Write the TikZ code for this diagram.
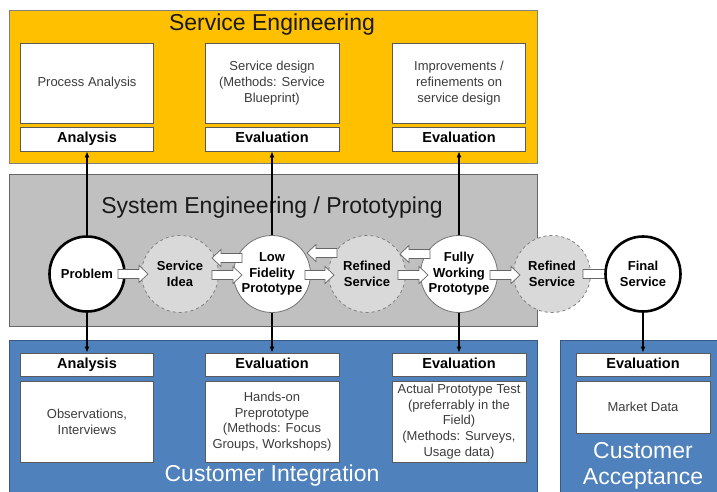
\documentclass[tikz,border=0pt]{standalone}
\usepackage{fontspec}
\setmainfont{Liberation Sans}
\usetikzlibrary{arrows.meta}
\definecolor{seyellow}{RGB}{255,192,0}
\definecolor{segray}{RGB}{192,192,192}
\definecolor{ciblue}{RGB}{79,129,189}
\definecolor{circgray}{RGB}{217,217,217}
\definecolor{bordgray}{RGB}{90,90,90}
\definecolor{txtgray}{RGB}{60,60,60}
\newcommand\rarr[3]{\draw[barrow] (#1,#3-4.5) -- (#2-9,#3-4.5) -- (#2-9,#3-8.5) -- (#2,#3) -- (#2-9,#3+8.5) -- (#2-9,#3+4.5) -- (#1,#3+4.5) -- cycle;}
\newcommand\larr[3]{\draw[barrow] (#1,#3-4.5) -- (#2+9,#3-4.5) -- (#2+9,#3-8.5) -- (#2,#3) -- (#2+9,#3+8.5) -- (#2+9,#3+4.5) -- (#1,#3+4.5) -- cycle;}
\begin{document}
\begin{tikzpicture}[x=1pt,y=-1pt,
  panel/.style={line width=0.8pt},
  cbox/.style={draw=bordgray, fill=white, line width=0.8pt, minimum width=133pt, minimum height=80pt, inner sep=0pt, align=center, font=\fontsize{13}{15.7}\selectfont, text=txtgray},
  lbox/.style={draw=bordgray, fill=white, line width=0.8pt, minimum width=133pt, minimum height=24pt, inner sep=0pt, text height=10.5pt, text depth=3pt, font=\bfseries\fontsize{14.5}{16}\selectfont},
  ttl/.style={anchor=base, font=\fontsize{23}{27}\selectfont},
  circtxt/.style={circle, minimum size=77pt, inner sep=0pt, align=center, font=\bfseries\fontsize{13}{15.4}\selectfont},
  bigcirc/.style={circtxt, draw=black, fill=white, line width=2.6pt, minimum size=75pt},
  dashcirc/.style={circtxt, draw=gray, fill=circgray, dashed, line width=0.8pt},
  opencirc/.style={circtxt, draw=gray!90!black, fill=white, line width=0.8pt},
  conn/.style={-{Latex[length=6pt,width=5pt]}, line width=1.1pt},
  barrow/.style={draw=gray!80!black, fill=white, line width=0.7pt}]
\useasboundingbox (0,0) rectangle (717,492);
% panels
\draw[panel, fill=seyellow, draw=gray] (9,10) rectangle (537,163);
\draw[panel, fill=segray, draw=gray!80!black] (9,174) rectangle (537,326);
\draw[panel, fill=ciblue, draw=ciblue!70!black] (9,340) rectangle (537,496);
\draw[panel, fill=ciblue, draw=ciblue!70!black] (560,340) rectangle (720,496);
% titles
\node[ttl, text=black!90] (tse) at (272,31) {Service Engineering};
\node[ttl, text=black!90] (tsy) at (272,213) {System Engineering / Prototyping};
\node[ttl, text=white] (tci) at (272,481) {Customer Integration};
\node[ttl, text=white] (tca1) at (643,458) {Customer};
\node[ttl, text=white] (tca2) at (643,484) {Acceptance};
% service engineering boxes
\node[cbox] (se1) at (87,83) {Process Analysis};
\node[lbox] (sl1) at (87,139) {Analysis};
\node[cbox, minimum width=134pt] (se2) at (272,83) {Service design\\(Methods: Service\\Blueprint)};
\node[lbox, minimum width=134pt] (sl2) at (272,139) {Evaluation};
\node[cbox] (se3) at (459,83) {Improvements /\\refinements on\\service design};
\node[lbox] (sl3) at (459,139) {Evaluation};
% customer integration boxes
\node[lbox, minimum height=23pt] (cl1) at (87,364.5) {Analysis};
\node[cbox, minimum height=81pt] (ce1) at (87,421.5) {Observations,\\Interviews};
\node[lbox, minimum height=23pt, minimum width=134pt] (cl2) at (272,364.5) {Evaluation};
\node[cbox, minimum height=81pt, minimum width=134pt] (ce2) at (272,421.5) {Hands-on\\Preprototype\\(Methods: Focus\\Groups, Workshops)};
\node[lbox, minimum height=23pt, minimum width=134pt] (cl3) at (459,364.5) {Evaluation};
\node[cbox, minimum height=81pt, minimum width=134pt] (ce3) at (459,421.5) {Actual Prototype Test\\(preferrably in the\\Field)\\(Methods: Surveys,\\Usage data)};
\node[lbox, minimum height=23pt, minimum width=134pt] (al1) at (643,364.5) {Evaluation};
\node[cbox, minimum height=52pt, minimum width=134pt] (ae1) at (643,407) {Market Data};
% circles
\node[bigcirc] (prob) at (87,274) {Problem};
\node[dashcirc] (idea) at (180,274) {Service\\Idea};
\node[opencirc] (lowf) at (272,274) {Low\\Fidelity\\Prototype};
\node[dashcirc] (ref1) at (367,274) {Refined\\Service};
\node[opencirc] (full) at (459,274) {Fully\\Working\\Prototype};
\node[dashcirc] (ref2) at (552,274) {Refined\\Service};
\rarr{583}{622}{274}
\node[bigcirc] (fin) at (643,274) {Final\\Service};
% vertical connectors
\draw[conn] (prob.north) -- (sl1.south);
\draw[conn] (prob.south) -- (cl1.north);
\draw[conn] (lowf.north) -- (sl2.south);
\draw[conn] (lowf.south) -- (cl2.north);
\draw[conn] (full.north) -- (sl3.south);
\draw[conn] (full.south) -- (cl3.north);
\draw[conn] (fin.south) -- (al1.north);
% block arrows
\rarr{118}{148}{274}
\rarr{212}{242}{275}
\larr{242}{212}{258}
\rarr{305}{334}{275}
\larr{337}{307}{253}
\rarr{398}{428}{275}
\larr{430}{400}{254}
\rarr{490}{520}{275}
\end{tikzpicture}
\end{document}
